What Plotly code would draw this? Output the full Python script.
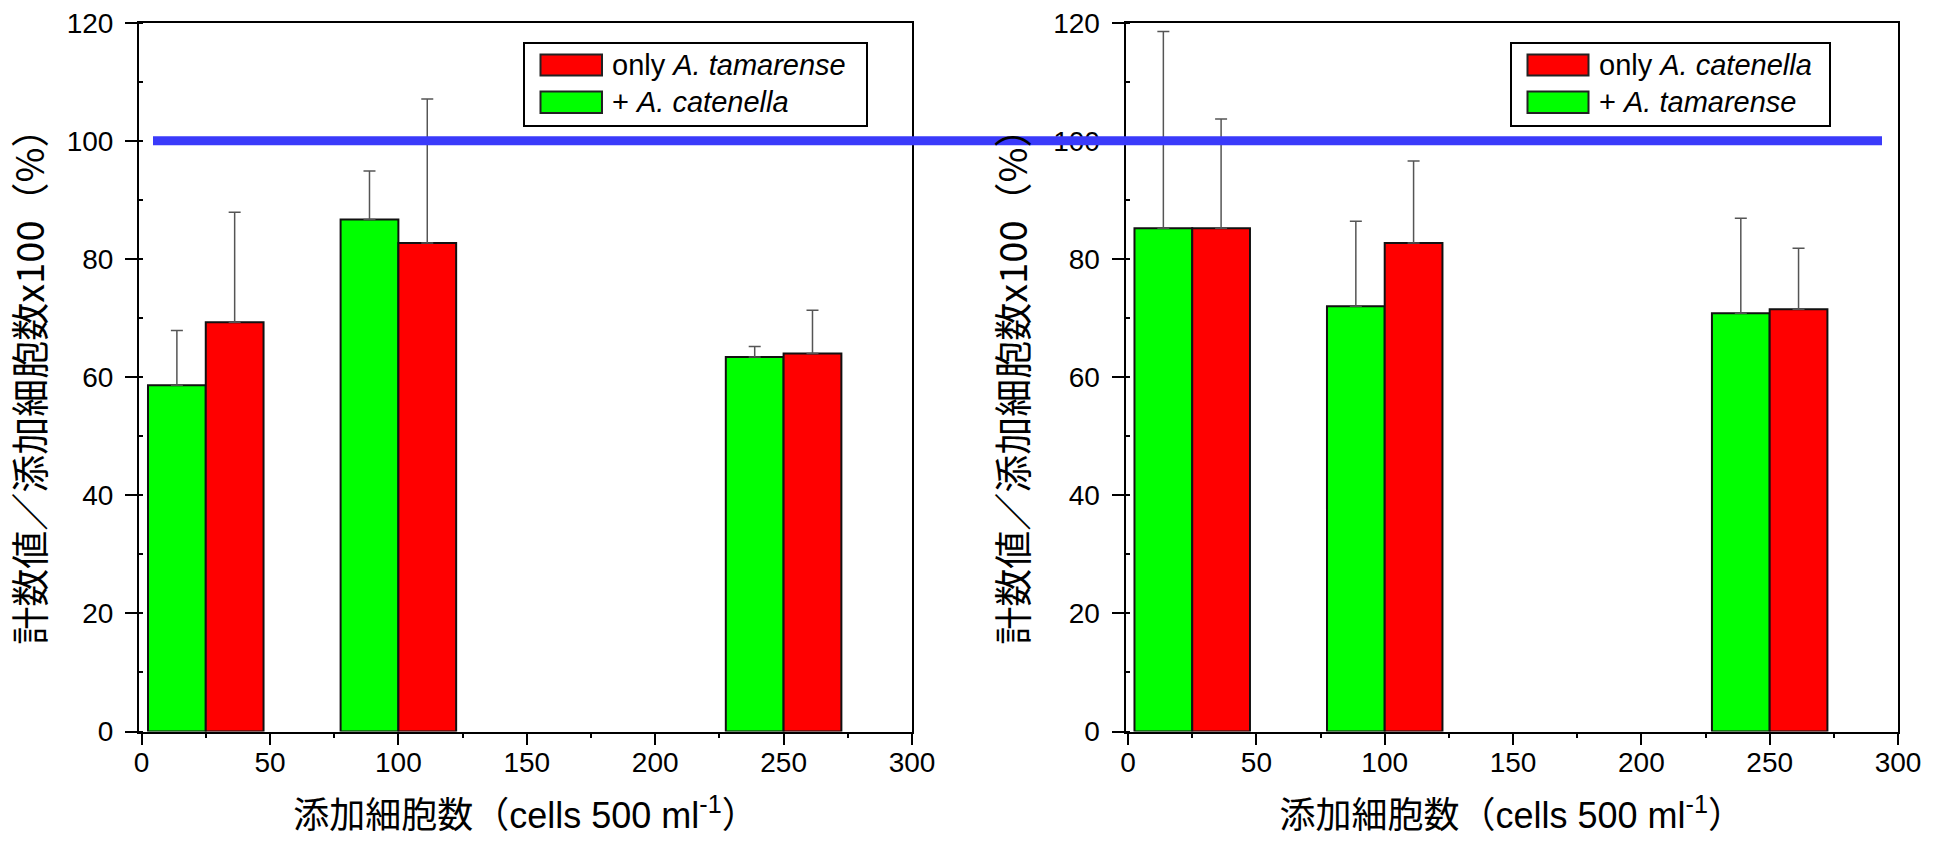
import plotly.graph_objects as go

# ---------------- data ----------------
positions = [25, 100, 250]          # 添加細胞数 (cells 500 ml-1)

left_names = ["only <i>A. tamarense</i>", "+ <i>A. catenella</i>"]
left_red = [69.3, 82.7, 64.0]
left_red_err = [18.6, 24.4, 7.3]
left_green = [58.6, 86.7, 63.4]
left_green_err = [9.3, 8.2, 1.8]

right_names = ["only <i>A. catenella</i>", "+ <i>A. tamarense</i>"]
right_red = [85.2, 82.7, 71.5]
right_red_err = [18.5, 13.9, 10.3]
right_green = [85.2, 72.0, 70.8]
right_green_err = [33.3, 14.4, 16.1]

reference_level = 100
x_tick_vals = [0, 50, 100, 150, 200, 250, 300]
y_tick_vals = [0, 20, 40, 60, 80, 100, 120]

x_title = "添加細胞数（cells 500 ml<sup>-1</sup>）"
y_title = "計数値／添加細胞数x100（%）"

# ---------------- styling ----------------
W, H = 1939, 843
GREEN = "#00FF00"
RED = "#FF0000"
BLUE = "rgb(58,58,250)"
FONT = "Arial, Liberation Sans, Noto Sans CJK JP, sans-serif"
CJK = "Noto Sans CJK JP, sans-serif"
BAR_W = 22.5


def fx(px):
    return px / W


def fy(py):
    return 1 - py / H


fig = go.Figure()


def add_bars(xa, ya, green, green_err, red, red_err):
    fig.add_trace(go.Bar(
        x=positions, y=green, width=BAR_W, offset=-BAR_W,
        marker=dict(color=GREEN, line=dict(color="#111111", width=2)),
        error_y=dict(type="data", symmetric=False, array=green_err,
                     arrayminus=[0] * len(green_err),
                     color="#555555", thickness=1.5, width=6),
        xaxis=xa, yaxis=ya, showlegend=False))
    fig.add_trace(go.Bar(
        x=positions, y=red, width=BAR_W, offset=0,
        marker=dict(color=RED, line=dict(color="#111111", width=2)),
        error_y=dict(type="data", symmetric=False, array=red_err,
                     arrayminus=[0] * len(red_err),
                     color="#555555", thickness=1.5, width=6),
        xaxis=xa, yaxis=ya, showlegend=False))


add_bars("x", "y", left_green, left_green_err, left_red, left_red_err)
add_bars("x2", "y2", right_green, right_green_err, right_red, right_red_err)

y_dom = [fy(731.5), fy(22.7)]

xcommon = dict(
    range=[-1, 300], tickvals=x_tick_vals, showgrid=False, zeroline=False,
    showline=True, linecolor="black", linewidth=2, mirror=True,
    ticks="outside", ticklen=11, tickwidth=2, tickcolor="black",
    minor=dict(dtick=25, tick0=0, ticks="outside", ticklen=4, tickwidth=1.5, tickcolor="black"),
    tickfont=dict(family=FONT, size=28, color="black"),
    ticklabelstandoff=-6,
    title=dict(text=x_title, font=dict(family=FONT, size=36, color="black"), standoff=26),
)
ycommon = dict(
    range=[0, 120], tickvals=y_tick_vals, showgrid=False, zeroline=False,
    showline=True, linecolor="black", linewidth=2, mirror=True,
    ticks="outside", ticklen=12, tickwidth=2, tickcolor="black",
    minor=dict(dtick=10, tick0=0, ticks="inside", ticklen=4, tickwidth=1.5, tickcolor="black"),
    tickfont=dict(family=FONT, size=28, color="black"),
    ticklabelstandoff=6,
    title=dict(text=y_title, font=dict(family=CJK, size=38, color="black"), standoff=14),
    domain=y_dom,
)

fig.update_layout(
    width=W, height=H,
    margin=dict(l=0, r=0, t=0, b=0),
    paper_bgcolor="white", plot_bgcolor="white",
    barmode="overlay",
    xaxis=dict(domain=[fx(139), fx(912)], anchor="y", **xcommon),
    yaxis=dict(anchor="x", **ycommon),
    xaxis2=dict(domain=[fx(1125.5), fx(1898)], anchor="y2", **xcommon),
    yaxis2=dict(anchor="x2", **ycommon),
)
fig.layout.xaxis.automargin = False
fig.layout.yaxis.automargin = False
fig.layout.xaxis2.automargin = False
fig.layout.yaxis2.automargin = False

# reference line at 100 % spanning both panels
fig.add_shape(type="line", xref="paper", yref="y", x0=fx(153), x1=fx(1882),
              y0=reference_level, y1=reference_level,
              line=dict(color=BLUE, width=9), layer="above")


# custom legends
def add_legend(box, sw_x, text_x, names):
    x0, y0, x1, y1 = box
    fig.add_shape(type="rect", xref="paper", yref="paper",
                  x0=fx(x0), x1=fx(x1), y0=fy(y1), y1=fy(y0),
                  line=dict(color="black", width=2), fillcolor="white", layer="above")
    rows = [(RED, 54.5, 75.5, names[0]), (GREEN, 91.5, 113, names[1])]
    for col, ty, by, name in rows:
        fig.add_shape(type="rect", xref="paper", yref="paper",
                      x0=fx(sw_x[0]), x1=fx(sw_x[1]), y0=fy(by), y1=fy(ty),
                      line=dict(color="#222222", width=2), fillcolor=col, layer="above")
        fig.add_annotation(xref="paper", yref="paper", x=fx(text_x), y=fy((ty + by) / 2),
                           xanchor="left", yanchor="middle", showarrow=False,
                           text=name, font=dict(family=FONT, size=29, color="black"))


add_legend((524, 43, 867, 126), (540.5, 602), 610, left_names)
add_legend((1511, 43, 1830, 126), (1527.5, 1588.5), 1597, right_names)

fig.write_html("out.html")
